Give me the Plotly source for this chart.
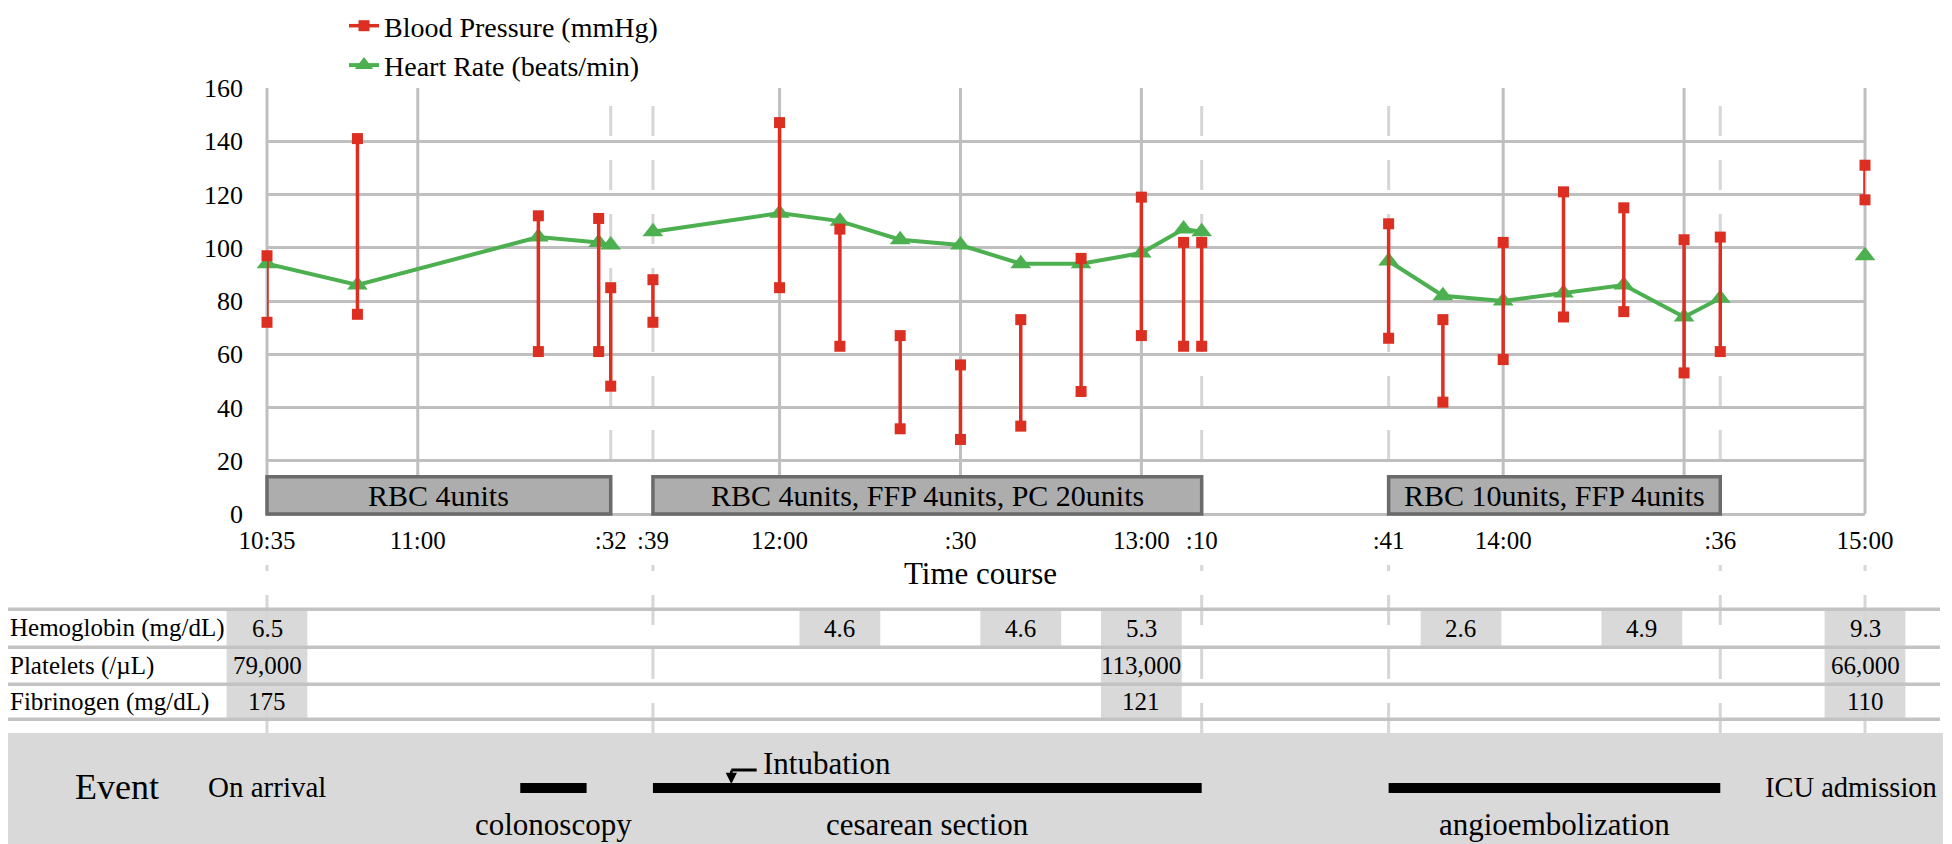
import plotly.graph_objects as go

# ---------------- data ----------------
times = ["10:35", "10:50", "11:20", "11:30", "11:32", "11:39", "12:00", "12:10",
         "12:20", "12:30", "12:40", "12:50", "13:00", "13:07", "13:10", "13:41",
         "13:50", "14:00", "14:10", "14:20", "14:30", "14:36", "15:00"]
bp_systolic = [97, 141, 112, 111, 85, 88, 147, 107, 67, 56, 73, 96, 119, 102, 102,
               109, 73, 102, 121, 115, 103, 104, 131]
bp_diastolic = [72, 75, 61, 61, 48, 72, 85, 63, 32, 28, 33, 46, 67, 63, 63,
                66, 42, 58, 74, 76, 53, 61, 118]
heart_rate = [94, 86, 104, 102, 101, 106, 113, 110, 103, 101, 94, 94, 98, 107, 106,
              95, 82, 80, 83, 86, 74, 81, 97]
hr_breaks_after = ["11:32", "13:10", "14:36"]

tick_times = ["10:35", "11:00", "11:32", "11:39", "12:00", "12:30", "13:00", "13:10",
              "13:41", "14:00", "14:36", "15:00"]
tick_labels = ["10:35", "11:00", ":32", ":39", "12:00", ":30", "13:00", ":10",
               ":41", "14:00", ":36", "15:00"]
y_ticks = [0, 20, 40, 60, 80, 100, 120, 140, 160]

transfusion_start = ["10:35", "11:39", "13:41"]
transfusion_end = ["11:32", "13:10", "14:36"]
transfusion_labels = ["RBC 4units", "RBC 4units, FFP 4units, PC 20units",
                      "RBC 10units, FFP 4units"]

lab_row_labels = ["Hemoglobin (mg/dL)", "Platelets (/\u00b5L)", "Fibrinogen (mg/dL)"]
hb_times = ["10:35", "12:10", "12:40", "13:00", "13:53", "14:23", "15:00"]
hb_values = [6.5, 4.6, 4.6, 5.3, 2.6, 4.9, 9.3]
coag_times = ["10:35", "13:00", "15:00"]
platelet_values = [79000, 113000, 66000]
fibrinogen_values = [175, 121, 110]

event_names = ["colonoscopy", "cesarean section", "angioembolization"]
event_start = ["11:17", "11:39", "13:41"]
event_end = ["11:28", "13:10", "14:36"]
intubation_time = "11:52"
arrival_time = "10:35"
icu_time = "15:00"

solid_grid_times = ["10:35", "11:00", "12:00", "12:30", "13:00", "14:00", "14:30", "15:00"]
dashed_in_plot = ["11:32", "11:39", "13:10", "13:41", "14:36"]
dashed_below = ["10:35", "11:39", "13:10", "13:41", "14:36", "15:00"]


def m(t):
    h, mm = t.split(":")
    return int(h) * 60 + int(mm)


# ---------------- layout geometry ----------------
# page offset of the figure inside the html body (default body margin)
OFF = 8
W, H = 1952 - OFF, 844 - OFF
# plot-area edges in page pixels
PL, PR, PT, PB = 267, 1865, 88, 514
X0, X1 = m("10:35"), m("15:00")
Y0, Y1 = 0, 160


def fx(p):
    return (p - OFF) / W


def fy(p):
    return 1 - (p - OFF) / H


xdom = [fx(PL), fx(PR)]
ydom = [fy(PB), fy(PT)]


def full_range(r0, r1, d0, d1):
    span = (r1 - r0) / (d1 - d0)
    return [r0 - d0 * span, r0 + (1 - d0) * span]


FONT = "Liberation Serif, Times New Roman, serif"
RED = "#dd2e22"
GREEN = "#4cb050"
GRID = "#bfbfbf"
DASH = "#d6d6d6"
CELL = "#d9d9d9"

ROW_LINES = [609.3, 647.3, 684.3, 719.3]
CELL_HALF = 6.7  # minutes
BOX_TOP = 14


def txt(text, x, y, xref, yref, size, xanchor="center", **kw):
    return dict(x=x, y=y, xref=xref, yref=yref, text=text, showarrow=False,
                xanchor=xanchor, yanchor="middle",
                font=dict(family=FONT, size=size, color="black"), **kw)


fig = go.Figure()

# Heart rate (drawn first so BP sits on top)
hx, hy = [], []
for t, v in zip(times, heart_rate):
    hx.append(m(t))
    hy.append(v)
    if t in hr_breaks_after:
        hx.append(None)
        hy.append(None)
fig.add_trace(go.Scatter(
    x=hx, y=hy, mode="lines+markers", name="Heart Rate (beats/min)",
    line=dict(color=GREEN, width=4),
    marker=dict(symbol="triangle-up", size=18, color=GREEN),
    connectgaps=False, cliponaxis=False, legendrank=2, hoverinfo="skip"))

bx, by = [], []
for t, s, d in zip(times, bp_systolic, bp_diastolic):
    bx += [m(t), m(t), None]
    by += [d, s, None]
fig.add_trace(go.Scatter(
    x=bx, y=by, mode="lines+markers", name="Blood Pressure (mmHg)",
    line=dict(color=RED, width=3.5),
    marker=dict(symbol="square", size=11, color=RED),
    connectgaps=False, cliponaxis=False, legendrank=1, hoverinfo="skip"))

shapes = []
annotations = []

# event background box
shapes.append(dict(type="rect", xref="paper", yref="paper", x0=0, x1=fx(1943),
                   y0=0, y1=fy(733), fillcolor=CELL, line=dict(width=0), layer="below"))

# lab cells
rows = [(hb_times, [f"{v:.1f}" for v in hb_values]),
        (coag_times, [f"{v:,}" for v in platelet_values]),
        (coag_times, [f"{v}" for v in fibrinogen_values])]
for r, (tt, vals) in enumerate(rows):
    top, bot = ROW_LINES[r], ROW_LINES[r + 1]
    for t, s in zip(tt, vals):
        shapes.append(dict(type="rect", xref="x2", yref="paper",
                           x0=m(t) - CELL_HALF, x1=m(t) + CELL_HALF,
                           y0=fy(bot), y1=fy(top), fillcolor=CELL,
                           line=dict(width=0), layer="below"))
        annotations.append(txt(s, m(t), fy((top + bot) / 2), "x2", "paper", 25))
    annotations.append(txt(lab_row_labels[r], fx(8), fy((top + bot) / 2),
                           "paper", "paper", 25, xanchor="left"))

# dashed vertical lines
for t in dashed_in_plot:
    shapes.append(dict(type="line", xref="x2", yref="paper", x0=m(t), x1=m(t),
                       y0=fy(PB), y1=fy(PT), line=dict(color=DASH, width=3, dash="30px,24px"),
                       layer="below"))
for t in dashed_below:
    shapes.append(dict(type="line", xref="x2", yref="paper", x0=m(t), x1=m(t),
                       y0=fy(733), y1=fy(565), line=dict(color=DASH, width=3, dash="30px,24px"),
                       layer="below"))

# table row lines
for yl in ROW_LINES:
    shapes.append(dict(type="line", xref="paper", yref="paper", x0=0, x1=fx(1940),
                       y0=fy(yl), y1=fy(yl), line=dict(color="#c3c3c3", width=3.5),
                       layer="below"))

# solid vertical gridlines / frame
for t in solid_grid_times:
    shapes.append(dict(type="line", xref="x2", yref="paper", x0=m(t), x1=m(t),
                       y0=fy(PB), y1=fy(PT), line=dict(color=GRID, width=3), layer="below"))

# transfusion boxes
for s, e, lab in zip(transfusion_start, transfusion_end, transfusion_labels):
    shapes.append(dict(type="rect", xref="x2", yref="y2", x0=m(s), x1=m(e),
                       y0=0, y1=BOX_TOP, fillcolor="#adadad",
                       line=dict(color="#6b6b6b", width=3.5), layer="above"))
    annotations.append(txt(lab, (m(s) + m(e)) / 2, BOX_TOP / 2, "x2", "y2", 30))

# event bars and labels
for name, s, e in zip(event_names, event_start, event_end):
    shapes.append(dict(type="rect", xref="x2", yref="paper", x0=m(s), x1=m(e),
                       y0=fy(793), y1=fy(783), fillcolor="black",
                       line=dict(width=0), layer="above"))
    annotations.append(txt(name, (m(s) + m(e)) / 2, fy(824), "x2", "paper", 31))

# intubation marker
ti = m(intubation_time)
shapes.append(dict(type="line", xref="x2", yref="paper", x0=ti, x1=ti + 4.2,
                   y0=fy(770), y1=fy(770), line=dict(color="black", width=3), layer="above"))
annotations.append(dict(x=ti, y=fy(784), xref="x2", yref="paper", text="",
                        showarrow=True, ax=0, ay=-15, arrowhead=2, arrowsize=0.9,
                        arrowwidth=2.5, arrowcolor="black"))
annotations.append(txt("Intubation", ti + 4.9, fy(763), "x2", "paper", 31, xanchor="left"))

annotations.append(txt("Event", fx(117), fy(787), "paper", "paper", 36))
annotations.append(txt("On arrival", m(arrival_time), fy(787), "x2", "paper", 29))
annotations.append(txt("ICU admission", m(icu_time), fy(787), "x2", "paper", 28.5, xshift=-14))
annotations.append(txt("Time course", fx(980), fy(573), "paper", "paper", 31))

fig.update_layout(
    width=W, height=H,
    margin=dict(l=0, r=0, t=0, b=0, pad=0, autoexpand=False),
    paper_bgcolor="white", plot_bgcolor="rgba(0,0,0,0)",
    font=dict(family=FONT, color="black"),
    showlegend=True,
    legend=dict(x=fx(383 - 39), y=1 + 7 / H, xanchor="left", yanchor="top",
                font=dict(family=FONT, size=28, color="black"),
                bgcolor="rgba(0,0,0,0)", borderwidth=0),
    xaxis=dict(domain=xdom, range=[X0, X1], tickmode="array",
               tickvals=[m(t) for t in tick_times], ticktext=tick_labels,
               showgrid=False, zeroline=False, showline=False, ticks="",
               ticklabelstandoff=9,
               tickfont=dict(family=FONT, size=25, color="black"),
               automargin=False, fixedrange=True),
    yaxis=dict(domain=ydom, range=[Y0, Y1], tickmode="array", tickvals=y_ticks,
               showgrid=True, gridcolor=GRID, gridwidth=3,
               zeroline=True, zerolinecolor=GRID, zerolinewidth=3,
               showline=False, ticks="", ticklabelstandoff=23,
               tickfont=dict(family=FONT, size=26, color="black"),
               automargin=False, fixedrange=True),
    xaxis2=dict(domain=[0, 1], range=full_range(X0, X1, xdom[0], xdom[1]),
                anchor="y2", visible=False, fixedrange=True),
    yaxis2=dict(domain=[0, 1], range=full_range(Y0, Y1, ydom[0], ydom[1]),
                anchor="x2", visible=False, fixedrange=True),
    shapes=shapes,
    annotations=annotations,
)

fig.write_html("out.html")
